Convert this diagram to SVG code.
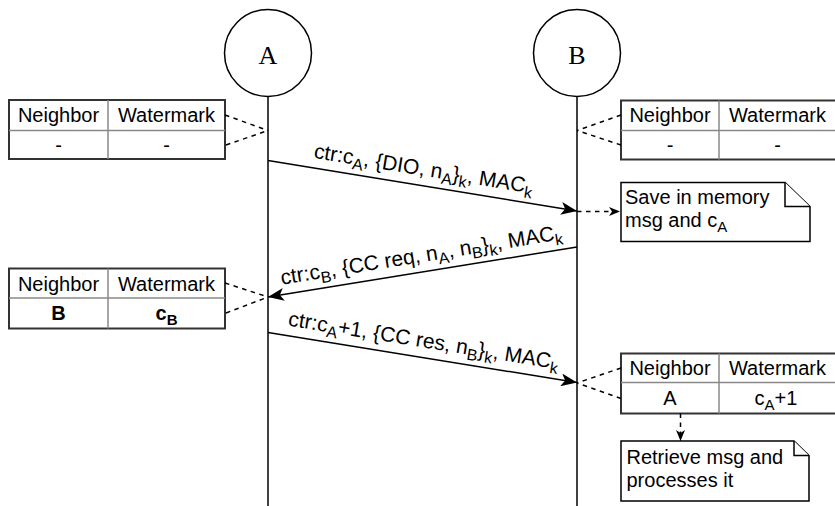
<svg xmlns="http://www.w3.org/2000/svg" width="835" height="506" viewBox="0 0 835 506">
  <defs>
    <marker id="head" markerUnits="userSpaceOnUse" markerWidth="17" markerHeight="13" refX="16" refY="6.5" orient="auto">
      <path d="M0,0 L16,6.5 L0,13 L4,6.5 Z" fill="#000"/>
    </marker>
    <marker id="headSmall" markerUnits="userSpaceOnUse" markerWidth="12" markerHeight="10" refX="11" refY="4.5" orient="auto">
      <path d="M0,0 L11,4.5 L0,9 L3,4.5 Z" fill="#000"/>
    </marker>
    <style>
      .txt { font-family: "Liberation Sans", Arial, Helvetica, sans-serif; font-size: 20px; fill: #000; }
      .lbl { font-size: 21px; }
      .sub { font-size: 15px; }
      .lbl .sub { font-size: 16px; }
      .name { font-family: "Liberation Serif", "Times New Roman", serif; font-size: 26px; fill: #000; }
      .life { stroke: #000; stroke-width: 1.5; fill: none; }
      .msg { stroke: #000; stroke-width: 1.5; fill: none; marker-end: url(#head); }
      .dash { stroke: #000; stroke-width: 1.5; fill: none; stroke-dasharray: 4.5 4.5; }
      .outer { fill: #fff; stroke: #333; stroke-width: 2; }
      .inner { stroke: #888; stroke-width: 1.5; fill: none; }
      .note { fill: #fff; stroke: #000; stroke-width: 1.5; stroke-linejoin: miter; }
      .bold { font-weight: bold; }
    </style>
  </defs>

  <rect width="835" height="506" fill="#fff"/>

  <!-- participants with their lifelines -->
  <g id="nodeA">
    <line class="life" x1="268" y1="97" x2="268" y2="506"/>
    <circle cx="268" cy="53" r="43.5" fill="#fff" stroke="#000" stroke-width="1.5"/>
    <text class="name" x="268" y="64" text-anchor="middle">A</text>
  </g>
  <g id="nodeB">
    <line class="life" x1="577" y1="97" x2="577" y2="506"/>
    <circle cx="577" cy="53" r="43.5" fill="#fff" stroke="#000" stroke-width="1.5"/>
    <text class="name" x="577" y="64" text-anchor="middle">B</text>
  </g>

  <!-- neighbor tables -->
  <g id="tableA1">
    <rect class="outer" x="9" y="100" width="216" height="59"/>
    <line class="inner" x1="9" y1="130.5" x2="225" y2="130.5"/>
    <line class="inner" x1="108" y1="100" x2="108" y2="159"/>
    <text class="txt" x="58.5" y="122" text-anchor="middle">Neighbor</text>
    <text class="txt" x="166.5" y="122" text-anchor="middle">Watermark</text>
    <text class="txt" x="58.5" y="152" text-anchor="middle">-</text>
    <text class="txt" x="166.5" y="152" text-anchor="middle">-</text>
  </g>
  <g id="tableB1">
    <rect class="outer" x="621" y="100.5" width="216" height="59"/>
    <line class="inner" x1="621" y1="130.5" x2="837" y2="130.5"/>
    <line class="inner" x1="719" y1="100.5" x2="719" y2="159.5"/>
    <text class="txt" x="670" y="122" text-anchor="middle">Neighbor</text>
    <text class="txt" x="777.5" y="122" text-anchor="middle">Watermark</text>
    <text class="txt" x="670" y="152" text-anchor="middle">-</text>
    <text class="txt" x="777.5" y="152" text-anchor="middle">-</text>
  </g>
  <g id="tableA2">
    <rect class="outer" x="9" y="268.5" width="216" height="60"/>
    <line class="inner" x1="9" y1="298" x2="225" y2="298"/>
    <line class="inner" x1="108" y1="268.5" x2="108" y2="328.5"/>
    <text class="txt" x="58.5" y="290.5" text-anchor="middle">Neighbor</text>
    <text class="txt" x="166.5" y="290.5" text-anchor="middle">Watermark</text>
    <text class="txt bold" x="58.5" y="320" text-anchor="middle">B</text>
    <text class="txt bold" x="166.5" y="320" text-anchor="middle">c<tspan class="sub" dy="5">B</tspan></text>
  </g>
  <g id="tableB2">
    <rect class="outer" x="621" y="353.5" width="216" height="60"/>
    <line class="inner" x1="621" y1="382.5" x2="837" y2="382.5"/>
    <line class="inner" x1="719" y1="353.5" x2="719" y2="413.5"/>
    <text class="txt" x="670" y="375" text-anchor="middle">Neighbor</text>
    <text class="txt" x="777.5" y="375" text-anchor="middle">Watermark</text>
    <text class="txt" x="670" y="405" text-anchor="middle">A</text>
    <text class="txt" x="776" y="405" text-anchor="middle">c<tspan class="sub" dy="5">A</tspan><tspan dy="-5">+1</tspan></text>
  </g>

  <!-- notes -->
  <g id="noteSave">
    <path class="note" d="M621,182.5 H785 L810,206.5 V241.5 H621 Z"/>
    <path class="note" d="M785,182.5 V206.5 H810" fill="none"/>
    <text class="txt" x="625" y="204">Save in memory</text>
    <text class="txt" x="625" y="226.5">msg and c<tspan class="sub" dy="5">A</tspan></text>
  </g>
  <g id="noteRetrieve">
    <path class="note" d="M621,441 H794 L809,455.5 V501 H621 Z"/>
    <path class="note" d="M794,441 V455.5 H809" fill="none"/>
    <text class="txt" x="626.5" y="463.5">Retrieve msg and</text>
    <text class="txt" x="626.5" y="487">processes it</text>
  </g>

  <!-- connectors -->
  <g id="connectors">
    <!-- table links to lifelines -->
    <path class="dash" d="M225,115 L268,130.5 M226,145 L268,130.5"/>
    <path class="dash" d="M621,115 L577,130.5 M621,145 L577,130.5"/>
    <path class="dash" d="M225,283 L268,297 M226,313 L268,297"/>
    <path class="dash" d="M621,368 L577,383 M621,398.5 L577,383"/>
    <!-- note links -->
    <line class="dash" x1="577" y1="211.5" x2="620" y2="211.5" marker-end="url(#headSmall)"/>
    <line class="dash" x1="680.5" y1="413.5" x2="680.5" y2="441" marker-end="url(#headSmall)"/>

    <!-- messages -->
    <line class="msg" x1="268" y1="160.5" x2="577" y2="211"/>
    <line class="msg" x1="577" y1="247" x2="268" y2="297"/>
    <line class="msg" x1="268" y1="332.5" x2="577" y2="382.5"/>

    <text class="txt lbl" transform="translate(421,185.5) rotate(9.28)" x="0" y="-10" text-anchor="middle">ctr:c<tspan class="sub" dy="5">A</tspan><tspan dy="-5">, {DIO, n</tspan><tspan class="sub" dy="5">A</tspan><tspan dy="-5">}</tspan><tspan class="sub" dy="5">k</tspan><tspan dy="-5">, MAC</tspan><tspan class="sub" dy="5">k</tspan></text>
    <text class="txt lbl" transform="translate(424,271.8) rotate(-9.19)" x="0" y="-10" text-anchor="middle">ctr:c<tspan class="sub" dy="5">B</tspan><tspan dy="-5">, {CC req, n</tspan><tspan class="sub" dy="5">A</tspan><tspan dy="-5">, n</tspan><tspan class="sub" dy="5">B</tspan><tspan dy="-5">}</tspan><tspan class="sub" dy="5">k</tspan><tspan dy="-5">, MAC</tspan><tspan class="sub" dy="5">k</tspan></text>
    <text class="txt lbl" transform="translate(421,357.2) rotate(9.19)" x="0" y="-10" text-anchor="middle">ctr:c<tspan class="sub" dy="5">A</tspan><tspan dy="-5">+1, {CC res, n</tspan><tspan class="sub" dy="5">B</tspan><tspan dy="-5">}</tspan><tspan class="sub" dy="5">k</tspan><tspan dy="-5">, MAC</tspan><tspan class="sub" dy="5">k</tspan></text>
  </g>
</svg>
